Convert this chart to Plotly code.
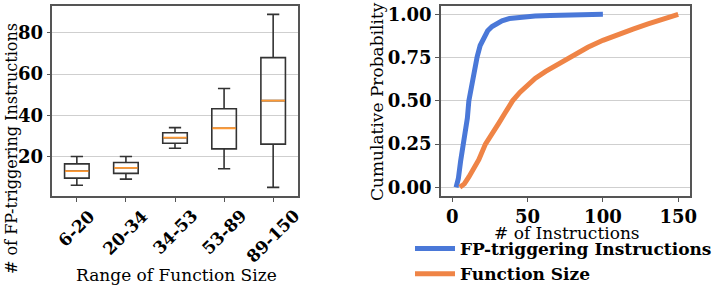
import plotly.graph_objects as go

# ---------------- data ----------------
categories = ["6-20", "20-34", "34-53", "53-89", "89-150"]
box_lower = [6.0, 9.0, 24.0, 14.0, 5.0]
box_q1 = [9.5, 11.8, 26.4, 23.7, 26.0]
box_median = [12.9, 14.5, 29.1, 33.7, 47.1]
box_q3 = [16.4, 17.1, 31.5, 43.2, 68.0]
box_upper = [20.0, 20.0, 34.0, 53.0, 89.0]

fp_x = [2.5, 4, 5.5, 7, 8.8, 10, 11, 12.5, 14.3, 16.5, 18.5, 21, 23.5, 26.4, 30, 33, 38, 46, 55, 65, 80, 100]
fp_y = [0, 0.05, 0.15, 0.23, 0.31, 0.40, 0.50, 0.58, 0.66, 0.755, 0.82, 0.87, 0.905, 0.93, 0.95, 0.963, 0.976, 0.986, 0.991, 0.994, 0.997, 1.0]

fs_x = [5, 8, 11, 14, 17.6, 22, 26, 30.8, 35, 40, 45, 50, 55, 62, 70, 80, 90, 100, 110, 120, 130, 140, 150]
fs_y = [0, 0.02, 0.06, 0.10, 0.16, 0.25, 0.31, 0.37, 0.43, 0.50, 0.55, 0.59, 0.63, 0.67, 0.71, 0.76, 0.81, 0.85, 0.885, 0.915, 0.945, 0.975, 1.0]

left_yticks = [20, 40, 60, 80]
right_yticks = [0, 0.25, 0.5, 0.75, 1.0]
right_xticks = [0, 50, 100, 150]

series_names = ["FP-triggering Instructions", "Function Size"]

# ---------------- style / layout helpers ----------------
W, H = 718, 289


def fx(X):
    """screen x pixel -> paper fraction"""
    return X / W


def fy(Y):
    """screen y pixel (from top) -> paper fraction"""
    return 1 - Y / H


SERIF = "DejaVu Serif"
BLUE = "#4a78d8"
ORANGE = "#ef8446"
BOXLINE = "#333333"
FRAME = "#555555"
GRID = "#cfcfcf"
TICKSIZE = 18
CATSIZE = 17
TITLESIZE = 17

positions = list(range(1, len(categories) + 1))

fig = go.Figure()

fig.add_trace(go.Box(
    x=positions, q1=box_q1, median=box_median, q3=box_q3,
    lowerfence=box_lower, upperfence=box_upper,
    width=0.5, whiskerwidth=0.5, boxpoints=False,
    line=dict(color=BOXLINE, width=1.6), fillcolor="rgba(255,255,255,0)",
    xaxis="x", yaxis="y", showlegend=False, hoverinfo="skip",
))

mx, my = [], []
for p, m in zip(positions, box_median):
    mx += [p - 0.24, p + 0.24, None]
    my += [m, m, None]
fig.add_trace(go.Scatter(x=mx, y=my, mode="lines", line=dict(color="#ff9933", width=1.8),
                         xaxis="x", yaxis="y", showlegend=False, hoverinfo="skip"))

fig.add_trace(go.Scatter(x=fp_x, y=fp_y, mode="lines", name=series_names[0],
                         line=dict(color=BLUE, width=5), xaxis="x2", yaxis="y2"))
fig.add_trace(go.Scatter(x=fs_x, y=fs_y, mode="lines", name=series_names[1],
                         line=dict(color=ORANGE, width=5), xaxis="x2", yaxis="y2"))

ydom = [fy(196), fy(5.7)]
axis_common = dict(showline=True, linecolor=FRAME, linewidth=1.5, mirror=True,
                   ticks="outside", ticklen=4, tickcolor=FRAME, tickwidth=1,
                   tickfont=dict(family=SERIF, size=TICKSIZE, color="black", weight="bold"),
                   zeroline=False, automargin=False)

fig.update_layout(
    width=W, height=H, margin=dict(l=0, r=0, t=0, b=0, autoexpand=False),
    paper_bgcolor="white", plot_bgcolor="white",
    xaxis=dict(domain=[fx(52.3), fx(297.7)], range=[0.5, 5.5], tickvals=positions,
               showticklabels=False, showgrid=False, anchor="y", **axis_common),
    yaxis=dict(domain=ydom, range=[0.8, 93.2], tickvals=left_yticks, showgrid=True,
               gridcolor=GRID, gridwidth=1, anchor="x", **axis_common),
    xaxis2=dict(domain=[fx(441), fx(689.5)], range=[-7.5, 157.5], tickvals=right_xticks,
                showgrid=False, anchor="y2", **axis_common),
    yaxis2=dict(domain=ydom, range=[-0.05, 1.05], tickvals=right_yticks, tickformat=".2f",
                showgrid=True, gridcolor=GRID, gridwidth=1, anchor="x2", **axis_common),
    legend=dict(x=fx(410), y=fy(231), xanchor="left", yanchor="top",
                font=dict(family=SERIF, size=17, color="black", weight="bold"),
                bgcolor="rgba(0,0,0,0)", tracegroupgap=0, itemwidth=40),
    showlegend=True,
)

# rotated category labels (centered under ticks)
for p, c in zip(positions, categories):
    fig.add_annotation(x=p, xref="x", y=fy(203), yref="paper", text=c, showarrow=False,
                       textangle=-45, xanchor="center", yanchor="top",
                       font=dict(family=SERIF, size=CATSIZE, color="black", weight="bold"))

title_font = dict(family=SERIF, size=TITLESIZE, color="black")
fig.add_annotation(x=fx(11), y=fy(149), xref="paper", yref="paper",
                   text="# of FP-triggering Instructions", textangle=-90, showarrow=False,
                   xanchor="center", yanchor="middle",
                   font=dict(family=SERIF, size=16, color="black"))
fig.add_annotation(x=fx(176), y=fy(275), xref="paper", yref="paper",
                   text="Range of Function Size", showarrow=False,
                   xanchor="center", yanchor="middle", font=title_font)
fig.add_annotation(x=fx(377), y=fy(101), xref="paper", yref="paper",
                   text="Cumulative Probability", textangle=-90, showarrow=False,
                   xanchor="center", yanchor="middle", font=title_font)
fig.add_annotation(x=fx(567), y=fy(233), xref="paper", yref="paper",
                   text="# of Instructions", showarrow=False,
                   xanchor="center", yanchor="middle", font=title_font)

fig.write_html("out.html", config={"displayModeBar": False},
               post_script="document.body.style.margin='0';")
